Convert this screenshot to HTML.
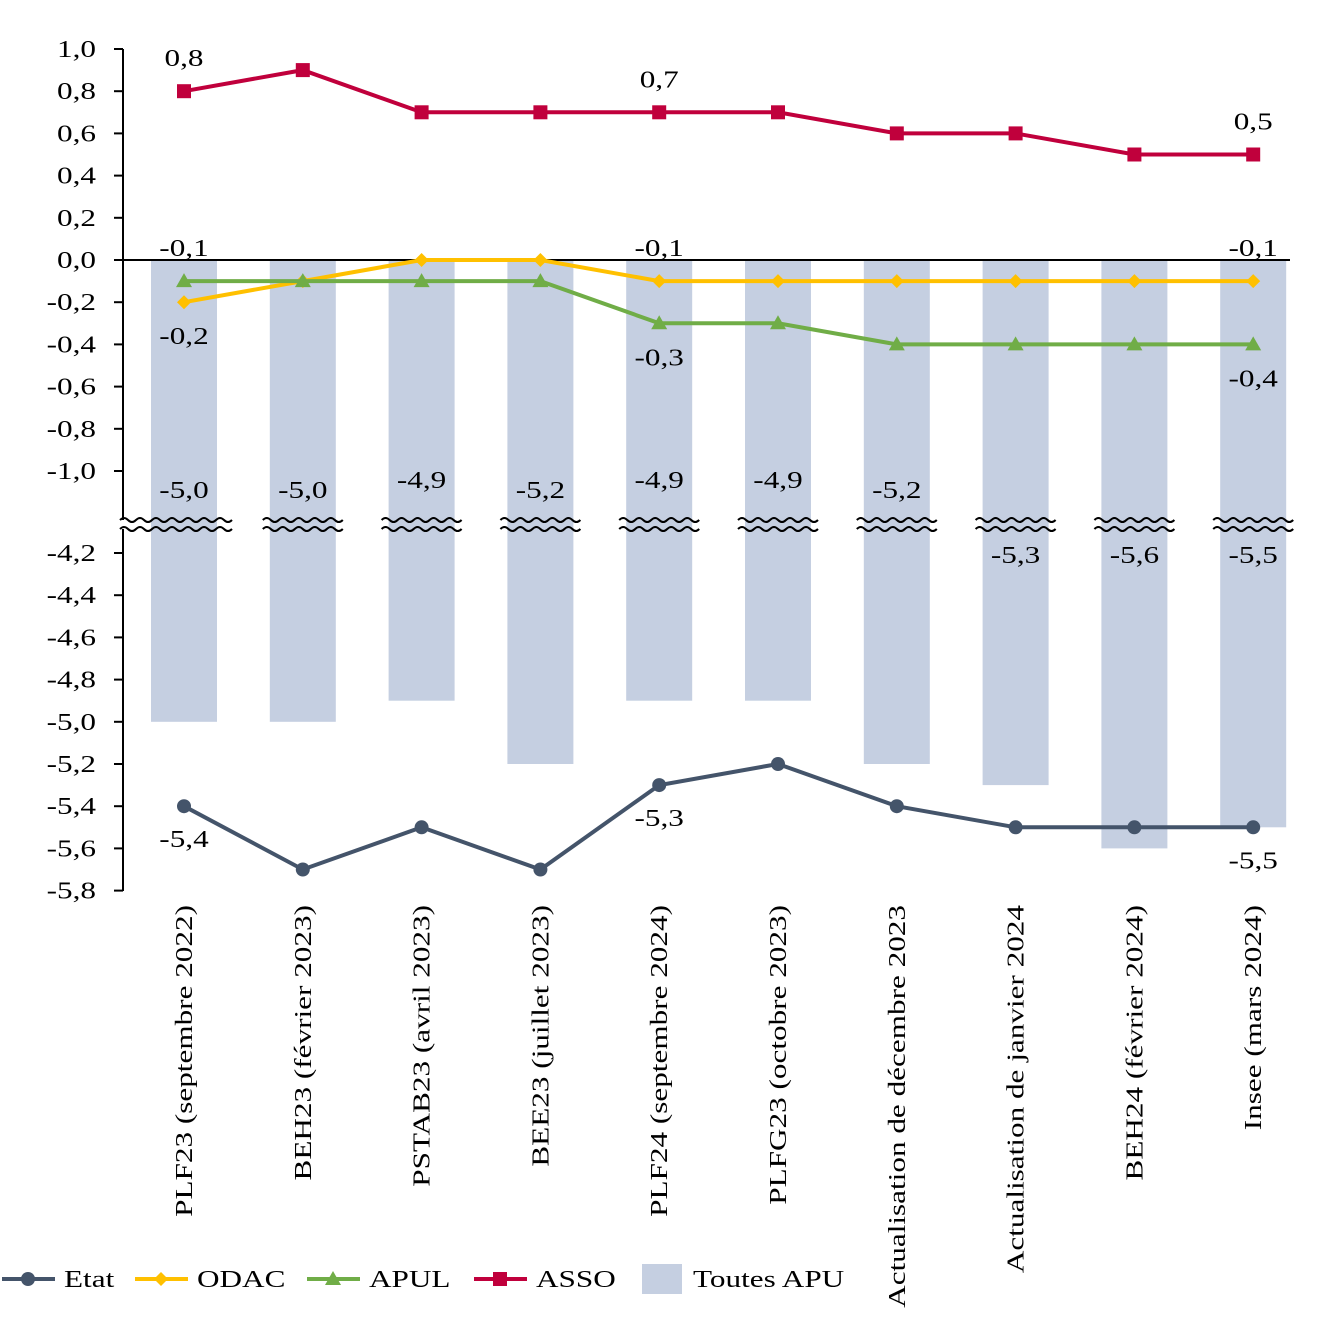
<!DOCTYPE html>
<html><head><meta charset="utf-8"><style>
body{margin:0;background:#fff}
svg text{font-family:"Liberation Serif",serif;font-size:24px;fill:#000}
</style></head><body>
<svg id="c" width="1327" height="1333" xmlns="http://www.w3.org/2000/svg"></svg>
<script>
const categories=["PLF23 (septembre 2022)","BEH23 (février 2023)","PSTAB23 (avril 2023)","BEE23 (juillet 2023)","PLF24 (septembre 2024)","PLFG23 (octobre 2023)","Actualisation de décembre 2023","Actualisation de janvier 2024","BEH24 (février 2024)","Insee (mars 2024)"];
const etat=[-5.4,-5.7,-5.5,-5.7,-5.3,-5.2,-5.4,-5.5,-5.5,-5.5];
const odac=[-0.2,-0.1,0,0,-0.1,-0.1,-0.1,-0.1,-0.1,-0.1];
const apul=[-0.1,-0.1,-0.1,-0.1,-0.3,-0.3,-0.4,-0.4,-0.4,-0.4];
const asso=[0.8,0.9,0.7,0.7,0.7,0.7,0.6,0.6,0.5,0.5];
const apu=[-5.0,-5.0,-4.9,-5.2,-4.9,-4.9,-5.2,-5.3,-5.6,-5.5];
const upperTicks=[1.0,0.8,0.6,0.4,0.2,0.0,-0.2,-0.4,-0.6,-0.8,-1.0];
const lowerTicks=[-4.2,-4.4,-4.6,-4.8,-5.0,-5.2,-5.4,-5.6,-5.8];
const labelIdx=[0,4,9];

const svg=document.getElementById('c');const NS="http://www.w3.org/2000/svg";
const SX=1.3, SXC=1.3;
function el(t,a,txt){const e=document.createElementNS(NS,t);for(const k in a)e.setAttribute(k,a[k]);if(txt!==undefined)e.textContent=txt;svg.appendChild(e);return e;}
function tx(xx,yy,anchor,s,name){return el('text',{transform:`translate(${xx},${yy}) scale(${SX},1)`,'text-anchor':anchor,},s);}
function y(v){return v>-2?260-v*211:553+(-4.2-v)*211;}
function x(i){return 184+i*118.8;}
const fmt=v=>v.toFixed(1).replace('.',',');

apu.forEach((v,i)=>{
 const b=el('rect',{x:x(i)-33,y:260,width:66,height:y(v)-260,fill:'#c5cfe1'});
 
 
});
el('line',{x1:123,y1:49,x2:123,y2:891,stroke:'#000','stroke-width':2,});
el('line',{x1:123,y1:260,x2:1290,y2:260,stroke:'#000','stroke-width':2,});
upperTicks.concat(lowerTicks).forEach(v=>{
 el('line',{x1:114,y1:y(v),x2:123,y2:y(v),stroke:'#000','stroke-width':2,});
 tx(96,y(v)+8,'end',fmt(v),'y-tick-label');
});
function wave(x0,x1,yy){let d=`M${x0},${yy}`;for(let xx=x0;xx<x1;xx+=16){d+=` Q${xx+4},${yy-4} ${xx+8},${yy} Q${xx+12},${yy+4} ${xx+16},${yy}`;}return d;}
for(let i=0;i<10;i++){
 const x0=i===0?120:x(i)-40,x1=x(i)+40;
 el('rect',{x:x0,y:520,width:x1-x0,height:9,fill:'#fff'});
 el('rect',{x:x(i)-33,y:520,width:66,height:9,fill:'#c5cfe1'});
 el('path',{d:wave(x0,x1,520),stroke:'#000','stroke-width':2,fill:'none',});
 el('path',{d:wave(x0,x1,529),stroke:'#000','stroke-width':2,fill:'none',});
}
apu.forEach((v,i)=>{
 const ly=v<=-5.25?563:(v>=-4.95?488:498);
 tx(x(i),ly,'middle',fmt(v),'bar-value-label');
});
function mark(m,cx,cy,color){
 if(m==='circle')return el('circle',{cx,cy,r:7,fill:color});
 if(m==='square')return el('rect',{x:cx-7,y:cy-7,width:14,height:14,fill:color});
 if(m==='diamond')return el('path',{d:`M${cx},${cy-7}L${cx+7},${cy}L${cx},${cy+7}L${cx-7},${cy}Z`,fill:color});
 return el('path',{d:`M${cx},${cy-8}L${cx+8},${cy+6}L${cx-8},${cy+6}Z`,fill:color});
}
function series(data,color,name,marker){
 el('polyline',{points:data.map((v,i)=>x(i)+','+y(v)).join(' '),fill:'none',stroke:color,'stroke-width':4,});
 data.forEach((v,i)=>{
  const m=mark(marker,x(i),y(v),color);
  
  
 });
}
series(etat,'#44546a','etat','circle');
series(odac,'#ffc000','odac','diamond');
series(apul,'#70ad47','apul','triangle');
series(asso,'#c0003c','asso','square');
labelIdx.forEach(i=>{
 tx(x(i),y(asso[i])-25,'middle',fmt(asso[i]),'asso-label');
 const hi=Math.max(odac[i],apul[i]),lo=Math.min(odac[i],apul[i]);
 tx(x(i),y(hi)-25,'middle',fmt(hi),'line-label');
 tx(x(i),y(lo)+42,'middle',fmt(lo),'line-label');
 tx(x(i),y(etat[i])+41,'middle',fmt(etat[i]),'etat-label');
});
categories.forEach((c,i)=>{
 el('text',{transform:`translate(${x(i)+8},905) rotate(-90) scale(${SXC},1)`,'text-anchor':'end',},c);
});
const lg=[['Etat','#44546a','circle',0],['ODAC','#ffc000','diamond',133],['APUL','#70ad47','triangle',305],['ASSO','#c0003c','square',472]];
lg.forEach(([n,c,m,ox])=>{
 el('line',{x1:ox+2,y1:1279,x2:ox+55,y2:1279,stroke:c,'stroke-width':4,});
 mark(m,ox+28,1279,c);
 tx(ox+64,1287,'start',n,'legend-entry');
});
el('rect',{x:642,y:1264,width:40,height:30,fill:'#c5cfe1',});
tx(693,1287,'start','Toutes APU','legend-entry');
</script>
</body></html>
